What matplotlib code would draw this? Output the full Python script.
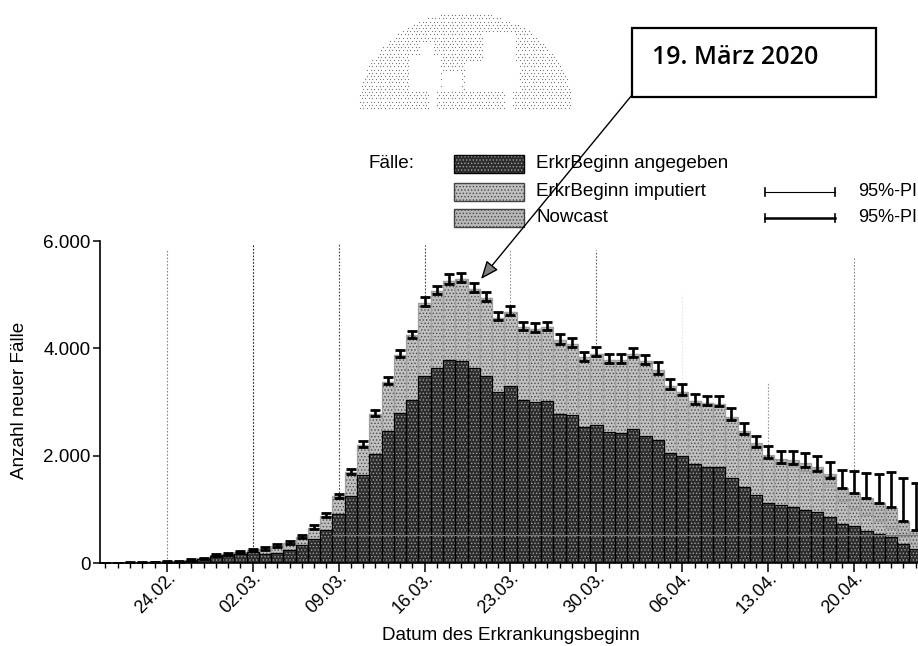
import matplotlib
matplotlib.use("Agg")
import matplotlib.pyplot as plt
from matplotlib.patches import Rectangle
import numpy as np

plt.rcParams["font.family"] = ["Liberation Sans", "DejaVu Sans"]
plt.rcParams["hatch.linewidth"] = 0.6

# Werte, Tage 19.02. bis 25.04.2020
angegeben = [0, 0, 5, 5, 10, 15, 15, 45, 70, 125, 150, 175,
             205, 175, 190, 240, 340, 455, 610, 910, 1245, 1635, 2040, 2460, 2800, 3035,
             3490, 3640, 3780, 3770, 3640, 3490, 3190, 3300, 3035, 3000, 3020, 2775, 2755, 2525, 2580, 2445,
             2425, 2495, 2365, 2290, 2050, 2000, 1850, 1790, 1790, 1585, 1410, 1275, 1120, 1075, 1045, 995,
             945, 850, 735, 685, 600, 540, 480, 360, 265]
gesamt = [0, 5, 5, 10, 15, 25, 30, 60, 85, 150, 175, 200,
          240, 265, 320, 370, 490, 650, 880, 1240, 1690, 2200, 2770, 3380, 3870, 4240,
          4840, 5060, 5260, 5290, 5110, 4930, 4570, 4670, 4390, 4360, 4390, 4150, 4080, 3830, 3900, 3780,
          3780, 3900, 3760, 3600, 3300, 3190, 3020, 2990, 2970, 2720, 2460, 2230, 2020, 1930, 1910, 1860,
          1790, 1650, 1400, 1310, 1210, 1120, 1030, 780, 600]
nowcast = [0] * 50 + [10, 20, 30, 40, 60, 80, 110, 140, 170, 210, 250, 290, 320, 340, 370, 300, 250]
pi_oben = [0, 5, 10, 15, 20, 35, 40, 75, 100, 170, 195, 225,
           265, 295, 350, 410, 530, 700, 930, 1290, 1750, 2270, 2850, 3460, 3960, 4330,
           4960, 5170, 5380, 5410, 5220, 5050, 4680, 4790, 4500, 4470, 4500, 4260, 4190, 3940, 4020, 3900,
           3890, 4010, 3880, 3750, 3430, 3340, 3150, 3120, 3110, 2880, 2600, 2370, 2180, 2090, 2080, 2050,
           1990, 1880, 1740, 1710, 1680, 1665, 1700, 1585, 1490]
pi_unten = [0, 0, 0, 5, 10, 15, 20, 45, 70, 130, 155, 180,
            215, 240, 295, 345, 465, 625, 850, 1210, 1650, 2170, 2730, 3340, 3830, 4200,
            4790, 5010, 5200, 5230, 5050, 4880, 4520, 4620, 4340, 4310, 4340, 4090, 4020, 3770, 3850, 3720,
            3720, 3840, 3700, 3530, 3250, 3130, 2970, 2940, 2920, 2660, 2400, 2170, 1950, 1870, 1840, 1790,
            1720, 1590, 1400, 1305, 1215, 1120, 1040, 780, 620]

wochen = ["24.02.", "02.03.", "09.03.", "16.03.", "23.03.", "30.03.", "06.04.", "13.04.", "20.04."]
wochen_tag = [0, 7, 14, 21, 28, 35, 42, 49, 56]
# Hilfslinien sind im Scan unterschiedlich kraeftig und lang
linien_grau = ["#888888", "#222222", "#444444", "#444444", "#999999", "#666666", "#e4e4e4", "#999999", "#888888"]
linien_oben = [5830, 5930, 5950, 5930, 5830, 5830, 5000, 3370, 5700]
y_ticks = [0, 2000, 4000, 6000]
y_labels = ["0", "2.000", "4.000", "6.000"]

W, H = 918, 646
FS = 13.6
tage = np.arange(-5, 62)
angegeben = np.array(angegeben)
gesamt = np.array(gesamt)
nowcast = np.array(nowcast)
imputiert = gesamt - angegeben - nowcast

fig = plt.figure(figsize=(W / 100, H / 100), dpi=100)
ax = fig.add_axes([100 / W, 1 - 563 / H, (W - 100) / W, (563 - 241) / H])

for tag, grau, oben, top in zip(wochen_tag, linien_grau, linien_oben, gesamt[5::7]):
    ax.vlines(tag, top, oben, color=grau, lw=0.8, ls=(0, (1.5, 1.5)), zorder=1)


def balken(werte, unten, farbe, punkte, rand):
    ax.bar(tage, werte, width=1.0, bottom=unten, color=farbe, edgecolor=punkte, hatch=".....", lw=0, zorder=2)
    ax.bar(tage, werte, width=1.0, bottom=unten, fill=False, edgecolor=rand, lw=0.9, zorder=3)


balken(imputiert, angegeben, "#c0c0c0", "#4a4a4a", "#a0a0a0")
balken(nowcast, angegeben + imputiert, "#b8b8b8", "#4a4a4a", "#a0a0a0")
balken(angegeben, 0, "#2c2c2c", "#a0a0a0", "#000000")
ax.hlines(515, 13.5, 61.2, color="#777777", lw=0.9, zorder=4)

mitte = (np.array(pi_oben) + np.array(pi_unten)) / 2
halb = (np.array(pi_oben) - np.array(pi_unten)) / 2
ax.errorbar(tage, mitte, yerr=halb, fmt="none", ecolor="black", elinewidth=1.9, capsize=3.9, capthick=2.0, zorder=5)

ax.set_xlim(-5.44, 61.2)
ax.set_ylim(0, 6000)
for s in ("top", "right"):
    ax.spines[s].set_visible(False)
ax.spines["left"].set_linewidth(1.2)
ax.spines["bottom"].set_linewidth(1.2)
ax.spines["bottom"].set_zorder(6)
ax.set_yticks(y_ticks)
ax.set_yticklabels(y_labels, fontsize=FS)
ax.set_xticks(wochen_tag)
ax.set_xticklabels(wochen, rotation=45, ha="right", rotation_mode="anchor", fontsize=13)
ax.set_xticks(tage, minor=True)
ax.tick_params(axis="x", which="major", length=6.5, width=1.1, pad=-2)
ax.tick_params(axis="x", which="minor", length=3.5, width=1.0)
ax.tick_params(axis="y", length=5, width=1.1, pad=2)

# Ueberlagerung in Pixelkoordinaten fuer Logo, Legende und Kasten
ov = fig.add_axes([0, 0, 1, 1], zorder=10)
ov.set_xlim(0, W)
ov.set_ylim(H, 0)
ov.axis("off")
ov.patch.set_alpha(0)

ov.text(20, 400, "Anzahl neuer Fälle", rotation=90, ha="center", va="center", fontsize=FS)
ov.text(511, 635, "Datum des Erkrankungsbeginn", ha="center", va="center", fontsize=FS)

# Logo als Punktraster
gx, gy = np.meshgrid(np.arange(358, 573, 3.6), np.arange(12, 109, 3.2))
gx[::2] += 1.8
maske = ((gx - 465) / 107) ** 2 + ((gy - 108) / 96) ** 2 < 1
for x0, x1, y0, y1 in [(409, 440, 55, 90), (483, 515, 32, 72), (465, 520, 62, 90), (420, 432, 42, 56),
                       (430, 436, 90, 108), (505, 512, 90, 108), (442, 462, 70, 90)]:
    maske &= ~((gx > x0) & (gx < x1) & (gy > y0) & (gy < y1))
ov.scatter(gx[maske], gy[maske], s=0.8, color="#777777", lw=0)

# Legende
ov.text(369, 164, "Fälle:", ha="left", va="center", fontsize=FS)
leg_text = ["ErkrBeginn angegeben", "ErkrBeginn imputiert", "Nowcast"]
leg_y = [164, 192, 218]
leg_farbe = [("#2c2c2c", "#a0a0a0", "#000000"), ("#c0c0c0", "#4a4a4a", "#444444"), ("#b8b8b8", "#4a4a4a", "#444444")]
for txt, y, (f, p, r) in zip(leg_text, leg_y, leg_farbe):
    ov.add_patch(Rectangle((454, y - 9), 70, 18, facecolor=f, edgecolor=p, hatch=".....", lw=0))
    ov.add_patch(Rectangle((454, y - 9), 70, 18, fill=False, edgecolor=r, lw=1.0))
    ov.text(536, y, txt, ha="left", va="center", fontsize=FS)
for y, lw in zip(leg_y[1:], [0.8, 1.8]):
    ov.plot([765, 835], [y, y], color="black", lw=lw)
    ov.plot([765, 765], [y - 4, y + 4], color="black", lw=1.2)
    ov.plot([835, 835], [y - 4, y + 4], color="black", lw=1.2)
    ov.text(858, y, "95%-PI", ha="left", va="center", fontsize=13)

# Kasten mit Datum und Pfeil
ov.add_patch(Rectangle((632, 28), 244, 69, facecolor="white", edgecolor="black", lw=1.6, zorder=3))
ov.text(652, 58, "19. März 2020", ha="left", va="center", fontsize=18, fontweight="semibold",
        family="Open Sans", zorder=4)
ov.annotate("", xy=(481, 279), xytext=(632, 95),
            arrowprops=dict(arrowstyle="-|>,head_length=1.1,head_width=0.45", lw=1.0, fc="#808080", ec="black",
                            shrinkA=0, shrinkB=0))

fig.savefig("out.png", dpi=100)
